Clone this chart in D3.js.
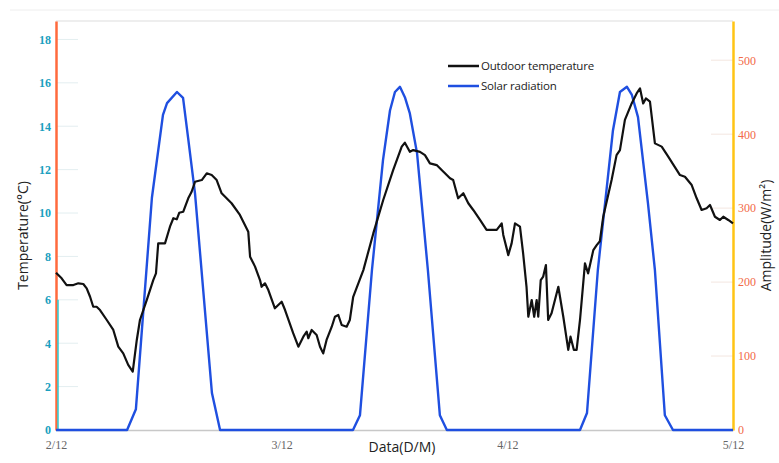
<!DOCTYPE html>
<html>
<head>
<meta charset="utf-8">
<script src="https://cdn.jsdelivr.net/npm/d3@7"></script>
<style>
  body { margin: 0; background: #fff; }
</style>
</head>
<body>
<script>
var width = 779, height = 463;
var margin = { top: 21, right: 46, bottom: 33, left: 56 };

// x in days since 2/12
var dayTicks = [0, 1, 2, 3];
var dayLabels = ["2/12", "3/12", "4/12", "5/12"];
var tempTicks = [0, 2, 4, 6, 8, 10, 12, 14, 16, 18];
var solarTicks = [0, 100, 200, 300, 400, 500];

// outdoor temperature (°C)
var tempDays = [0.0, 0.025, 0.047, 0.077, 0.099, 0.121, 0.136, 0.151, 0.165, 0.180, 0.195, 0.225, 0.254, 0.276, 0.298, 0.320, 0.340,
  0.358, 0.372, 0.402, 0.431, 0.443, 0.453, 0.483, 0.505, 0.520, 0.535, 0.546, 0.564, 0.586, 0.601, 0.616, 0.646, 0.668, 0.690,
  0.712, 0.734, 0.778, 0.815, 0.852, 0.860, 0.882, 0.904, 0.911, 0.926, 0.941, 0.970, 1.000, 1.015, 1.051, 1.074, 1.096, 1.111,
  1.118, 1.133, 1.155, 1.170, 1.184, 1.199, 1.222, 1.236, 1.251, 1.266, 1.288, 1.302, 1.317, 1.362, 1.406, 1.450, 1.494, 1.532,
  1.546, 1.568, 1.583, 1.613, 1.635, 1.657, 1.687, 1.709, 1.746, 1.760, 1.782, 1.805, 1.827, 1.849, 1.879, 1.908, 1.953, 1.975,
  1.982, 1.997, 2.004, 2.019, 2.034, 2.056, 2.070, 2.085, 2.093, 2.108, 2.119, 2.130, 2.137, 2.148, 2.159, 2.171, 2.181, 2.196,
  2.226, 2.248, 2.270, 2.280, 2.295, 2.307, 2.322, 2.344, 2.358, 2.381, 2.396, 2.410, 2.425, 2.462, 2.484, 2.499, 2.521, 2.551,
  2.573, 2.588, 2.602, 2.614, 2.632, 2.654, 2.684, 2.713, 2.765, 2.787, 2.817, 2.839, 2.861, 2.883, 2.898, 2.920, 2.942, 2.957,
  2.979, 3.0];
var tempValues = [7.25, 6.99, 6.68, 6.68, 6.76, 6.73, 6.53, 6.14, 5.68, 5.68, 5.53, 5.07, 4.61, 3.84, 3.53, 3.0, 2.69,
  4.15, 5.07, 5.99, 6.91, 7.22, 8.60, 8.60, 9.37, 9.76, 9.71, 10.01, 10.06, 10.68, 10.98, 11.44, 11.52, 11.83, 11.75,
  11.52, 10.91, 10.45, 9.91, 9.14, 7.99, 7.53, 6.91, 6.60, 6.76, 6.45, 5.61, 5.91, 5.53, 4.46, 3.84, 4.30, 4.53,
  4.23, 4.61, 4.38, 3.84, 3.53, 4.15, 4.76, 5.22, 5.30, 4.84, 4.76, 5.07, 6.14, 7.37, 9.06, 10.60, 11.98, 13.06,
  13.24, 12.82, 12.90, 12.82, 12.67, 12.29, 12.21, 11.98, 11.60, 11.52, 10.68, 10.91, 10.45, 10.14, 9.68, 9.22, 9.22, 9.52,
  8.99, 8.37, 8.06, 8.60, 9.52, 9.37, 8.14, 6.60, 5.22, 5.99, 5.22, 5.99, 5.22, 6.91, 7.07, 7.60, 5.07, 5.38,
  6.60, 5.22, 3.69, 4.30, 3.69, 3.69, 5.07, 7.68, 7.22, 8.29, 8.52, 8.70, 9.83, 11.52, 12.67, 12.90, 14.29, 15.05,
  15.51, 15.74, 15.05, 15.28, 15.13, 13.21, 13.06, 12.60, 11.75, 11.67, 11.29, 10.68, 10.14, 10.22, 10.37, 9.83, 9.68, 9.83,
  9.68, 9.52];

// solar radiation (W/m²)
var solarDays = [0, 0.315, 0.354, 0.425, 0.474, 0.492, 0.536, 0.563, 0.585, 0.616, 0.691, 0.727,
  1.316, 1.347, 1.400, 1.449, 1.480, 1.502, 1.524, 1.546, 1.568, 1.600, 1.648, 1.701, 1.732,
  2.322, 2.353, 2.401, 2.468, 2.499, 2.530, 2.552, 2.579, 2.623, 2.654, 2.698, 2.734, 3.0];
var solarValues = [0, 0, 28, 314, 426, 442, 457, 449, 396, 320, 50, 0,
  0, 20, 216, 365, 432, 457, 464, 450, 428, 374, 216, 20, 0,
  0, 23, 216, 405, 457, 464, 453, 423, 307, 216, 20, 0, 0];

var svg = d3.select("body")
    .append("svg")
    .attr("width", width)
    .attr("height", height)
    .style("font-family", "'Liberation Serif', serif");

var x = d3.scaleLinear().domain([0, 3]).range([margin.left, width - margin.right]);
var yT = d3.scaleLinear().domain([0, 18.85]).range([height - margin.bottom, margin.top]);
var yS = d3.scaleLinear().domain([0, 553]).range([height - margin.bottom, margin.top]);

// faint line across the top of the figure
svg.append("line")
    .attr("x1", 10).attr("x2", width)
    .attr("y1", 10).attr("y2", 10)
    .attr("stroke", "#eeeeee");

// top frame line
svg.append("line")
    .attr("x1", x(0)).attr("x2", x(3))
    .attr("y1", margin.top).attr("y2", margin.top)
    .attr("stroke", "#dddddd");

// faint short grid marks
svg.append("g")
    .selectAll("line")
    .data(tempTicks.slice(1))
    .enter().append("line")
    .attr("x1", x(0)).attr("x2", x(0) + 22)
    .attr("y1", function(d) { return yT(d); })
    .attr("y2", function(d) { return yT(d); })
    .attr("stroke", "#e3eef0");
svg.append("g")
    .selectAll("line")
    .data(solarTicks.slice(1))
    .enter().append("line")
    .attr("x1", x(3) - 22).attr("x2", x(3))
    .attr("y1", function(d) { return yS(d); })
    .attr("y2", function(d) { return yS(d); })
    .attr("stroke", "#f3e6e0");

// bottom axis
var xAxis = svg.append("g")
    .attr("transform", "translate(0," + yT(0) + ")")
    .call(d3.axisBottom(x).tickValues(dayTicks).tickSize(0).tickPadding(10)
        .tickFormat(function(d, i) { return dayLabels[i]; }));
xAxis.select(".domain").attr("stroke", "#c8c8c8").attr("stroke-width", 1.5);
xAxis.selectAll("text").attr("fill", "#666").style("font-size", "12px").style("font-family", "'Liberation Serif', serif");

// left axis
var leftAxis = svg.append("g")
    .attr("transform", "translate(" + x(0) + ",0)")
    .call(d3.axisLeft(yT).tickValues(tempTicks).tickSize(0).tickPadding(5));
leftAxis.select(".domain").attr("stroke", "#ff6a3d").attr("stroke-width", 2.5);
leftAxis.selectAll("text").attr("fill", "#1a9fc0").style("font-size", "12px")
    .style("font-weight", "bold").style("font-family", "'Liberation Serif', serif");

// teal segment beside left axis
svg.append("line")
    .attr("x1", x(0) + 2).attr("x2", x(0) + 2)
    .attr("y1", yT(6)).attr("y2", yT(0))
    .attr("stroke", "#2ccad0").attr("stroke-width", 1.5);

// right axis
var rightAxis = svg.append("g")
    .attr("transform", "translate(" + x(3) + ",0)")
    .call(d3.axisRight(yS).tickValues(solarTicks).tickSize(0).tickPadding(5));
rightAxis.select(".domain").attr("stroke", "#ffc414").attr("stroke-width", 2.5);
rightAxis.selectAll("text").attr("fill", "#f26a48").style("font-size", "12px")
    .style("font-family", "'Liberation Serif', serif");

// lines
var solarLine = d3.line()
    .x(function(d, i) { return x(solarDays[i]); })
    .y(function(d) { return yS(d); });
var tempLine = d3.line()
    .x(function(d, i) { return x(tempDays[i]); })
    .y(function(d) { return yT(d); });

svg.append("path")
    .attr("d", solarLine(solarValues))
    .attr("fill", "none")
    .attr("stroke", "#1f4fe0")
    .attr("stroke-width", 2.4)
    .attr("stroke-linejoin", "round");

svg.append("path")
    .attr("d", tempLine(tempValues))
    .attr("fill", "none")
    .attr("stroke", "#111")
    .attr("stroke-width", 2.2)
    .attr("stroke-linejoin", "round");

// axis titles
svg.append("text")
    .attr("transform", "translate(28," + ((yT(0) + margin.top) / 2 + 10) + ") rotate(-90)")
    .attr("text-anchor", "middle")
    .style("font-family", "'Open Sans', sans-serif")
    .style("font-size", "14px")
    .attr("fill", "#222")
    .text("Temperature(°C)");

svg.append("text")
    .attr("transform", "translate(771," + ((yT(0) + margin.top) / 2 + 10) + ") rotate(-90)")
    .attr("text-anchor", "middle")
    .style("font-family", "'Open Sans', sans-serif")
    .style("font-size", "14px")
    .attr("fill", "#222")
    .text("Amplitude(W/m²)");

svg.append("text")
    .attr("x", 402).attr("y", 452)
    .attr("text-anchor", "middle")
    .style("font-family", "'Open Sans', sans-serif")
    .style("font-size", "14px")
    .attr("fill", "#222")
    .text("Data(D/M)");

// legend
var legend = svg.append("g").attr("transform", "translate(448,66)");
var legendItems = [{ name: "Outdoor temperature", color: "#111" }, { name: "Solar radiation", color: "#1f4fe0" }];
var li = legend.selectAll("g")
    .data(legendItems)
    .enter().append("g")
    .attr("transform", function(d, i) { return "translate(0," + i * 20 + ")"; });
li.append("line")
    .attr("x1", 0).attr("x2", 31)
    .attr("stroke", function(d) { return d.color; })
    .attr("stroke-width", 2.5);
li.append("text")
    .attr("x", 33).attr("y", 4)
    .style("font-family", "'Open Sans', sans-serif")
    .style("font-size", "11.5px")
    .style("letter-spacing", "-0.2px")
    .attr("fill", "#222")
    .text(function(d) { return d.name; });
</script>
</body>
</html>
